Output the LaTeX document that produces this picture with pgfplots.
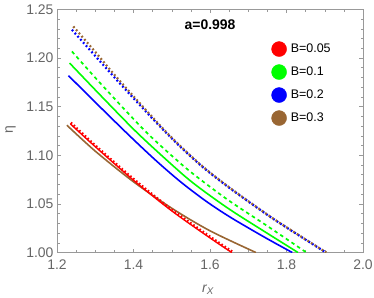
\documentclass[border=0pt]{standalone}
\usepackage{fontspec}
\setmainfont{Liberation Sans}
\usepackage{pgfplots}
\pgfplotsset{compat=1.18}
\definecolor{mbrown}{rgb}{0.6,0.4,0.2}
\definecolor{mgreen}{rgb}{0,1,0}
\definecolor{lblgray}{gray}{0.4}
\definecolor{framegray}{gray}{0.6}
\begin{document}
\begin{tikzpicture}
\begin{axis}[
  scale only axis, width=306bp, height=243.2bp,
  xmin=1.2, xmax=2.0, ymin=1.0, ymax=1.25,
  xtick={1.2,1.4,1.6,1.8,2.0},
  ytick={1.00,1.05,1.10,1.15,1.20,1.25},
  minor x tick num=3, minor y tick num=4,
  tick align=inside, major tick length=4bp, minor tick length=2.5bp,
  axis line style={framegray, line width=0.6bp},
  every tick/.style={framegray, line width=0.5bp},
  /pgf/number format/assume math mode=true,
  x tick label style={/pgf/number format/fixed, /pgf/number format/fixed zerofill, /pgf/number format/precision=1, yshift=-3.5bp},
  y tick label style={/pgf/number format/fixed, /pgf/number format/fixed zerofill, /pgf/number format/precision=2},
  tick label style={font=\fontsize{14}{16}\selectfont, text=lblgray},
  xlabel={\itshape r\textsubscript{X}},
  ylabel={η},
  label style={font=\fontsize{14}{16}\selectfont, text=lblgray},
  xlabel style={at={(axis description cs:0.4935,-0.152)}, anchor=center},
  ylabel style={at={(axis description cs:-0.152,0.506)}, anchor=center},
  legend style={at={(0.700,0.869)}, anchor=north west, draw=none, fill=none, inner sep=0pt, row sep=7.6bp, font=\fontsize{12.5}{14}\selectfont},
  legend cell align=left,
]
\addlegendimage{legend image code/.code={\fill[red] (7.5bp,0) circle (7.5bp); \path (17bp,0);}}
\addlegendentry{B=0.05}
\addlegendimage{legend image code/.code={\fill[mgreen] (7.5bp,0) circle (7.5bp); \path (17bp,0);}}
\addlegendentry{B=0.1}
\addlegendimage{legend image code/.code={\fill[blue] (7.5bp,0) circle (7.5bp); \path (17bp,0);}}
\addlegendentry{B=0.2}
\addlegendimage{legend image code/.code={\fill[mbrown] (7.5bp,0) circle (7.5bp); \path (17bp,0);}}
\addlegendentry{B=0.3}

% brown solid
\addplot[forget plot, mbrown, line width=1.6bp, smooth] coordinates {(1.226,1.1308)(1.30,1.1042)(1.40,1.0727)(1.50,1.0455)(1.60,1.0223)(1.72,1.0)};
% red solid + dotted
\addplot[forget plot, red, line width=1.4bp, smooth] coordinates {(1.235,1.1322)(1.30,1.1088)(1.40,1.0743)(1.50,1.0428)(1.60,1.0150)(1.657,1.0)};
\addplot[forget plot, red, line width=2.6bp, dash pattern=on 1.6bp off 2.2bp, smooth] coordinates {(1.236,1.1334)(1.30,1.1100)(1.40,1.0755)(1.50,1.0440)(1.60,1.0162)(1.661,1.0)};
% blue solid
\addplot[forget plot, blue, line width=1.6bp, smooth] coordinates {(1.230,1.1818)(1.31,1.1506)(1.387,1.1210)(1.4565,1.0953)(1.5217,1.0731)(1.587,1.0535)(1.6522,1.0365)(1.7435,1.0155)(1.815,1.0)};
% green solid
\addplot[forget plot, mgreen, line width=1.6bp, smooth] coordinates {(1.233,1.1947)(1.32,1.1590)(1.413,1.1218)(1.5217,1.0827)(1.574,1.0660)(1.6522,1.0441)(1.7435,1.0213)(1.83,1.0)};
% green dashed
\addplot[forget plot, mgreen, line width=1.7bp, dash pattern=on 3.5bp off 3.3bp, smooth] coordinates {(1.239,1.2067)(1.313,1.1741)(1.43,1.1250)(1.5217,1.0920)(1.574,1.0753)(1.6522,1.0526)(1.75,1.0272)(1.852,1.0)};
% blue dotted
\addplot[forget plot, blue, line width=2.2bp, dash pattern=on 1.8bp off 2.4bp, smooth] coordinates {(1.239,1.2290)(1.365,1.1736)(1.487,1.1224)(1.574,1.0902)(1.6522,1.0660)(1.744,1.0403)(1.80,1.0257)(1.903,1.0)};
% brown dotted
\addplot[forget plot, mbrown, line width=2.2bp, dash pattern=on 1.8bp off 2.4bp, dash phase=2.1bp, smooth] coordinates {(1.239,1.2340)(1.30,1.2062)(1.365,1.1760)(1.487,1.1232)(1.574,1.0907)(1.6522,1.0664)(1.744,1.0406)(1.80,1.0259)(1.904,1.0)};

\node[font=\bfseries\fontsize{14}{16}\selectfont, black] at (axis cs:1.6,1.2346) {a=0.998};
\end{axis}
\pgfresetboundingbox
\path[use as bounding box] ([shift={(-57bp,-44.5bp)}]current axis.south west) rectangle ([shift={(11bp,9.3bp)}]current axis.north east);
\end{tikzpicture}
\end{document}
